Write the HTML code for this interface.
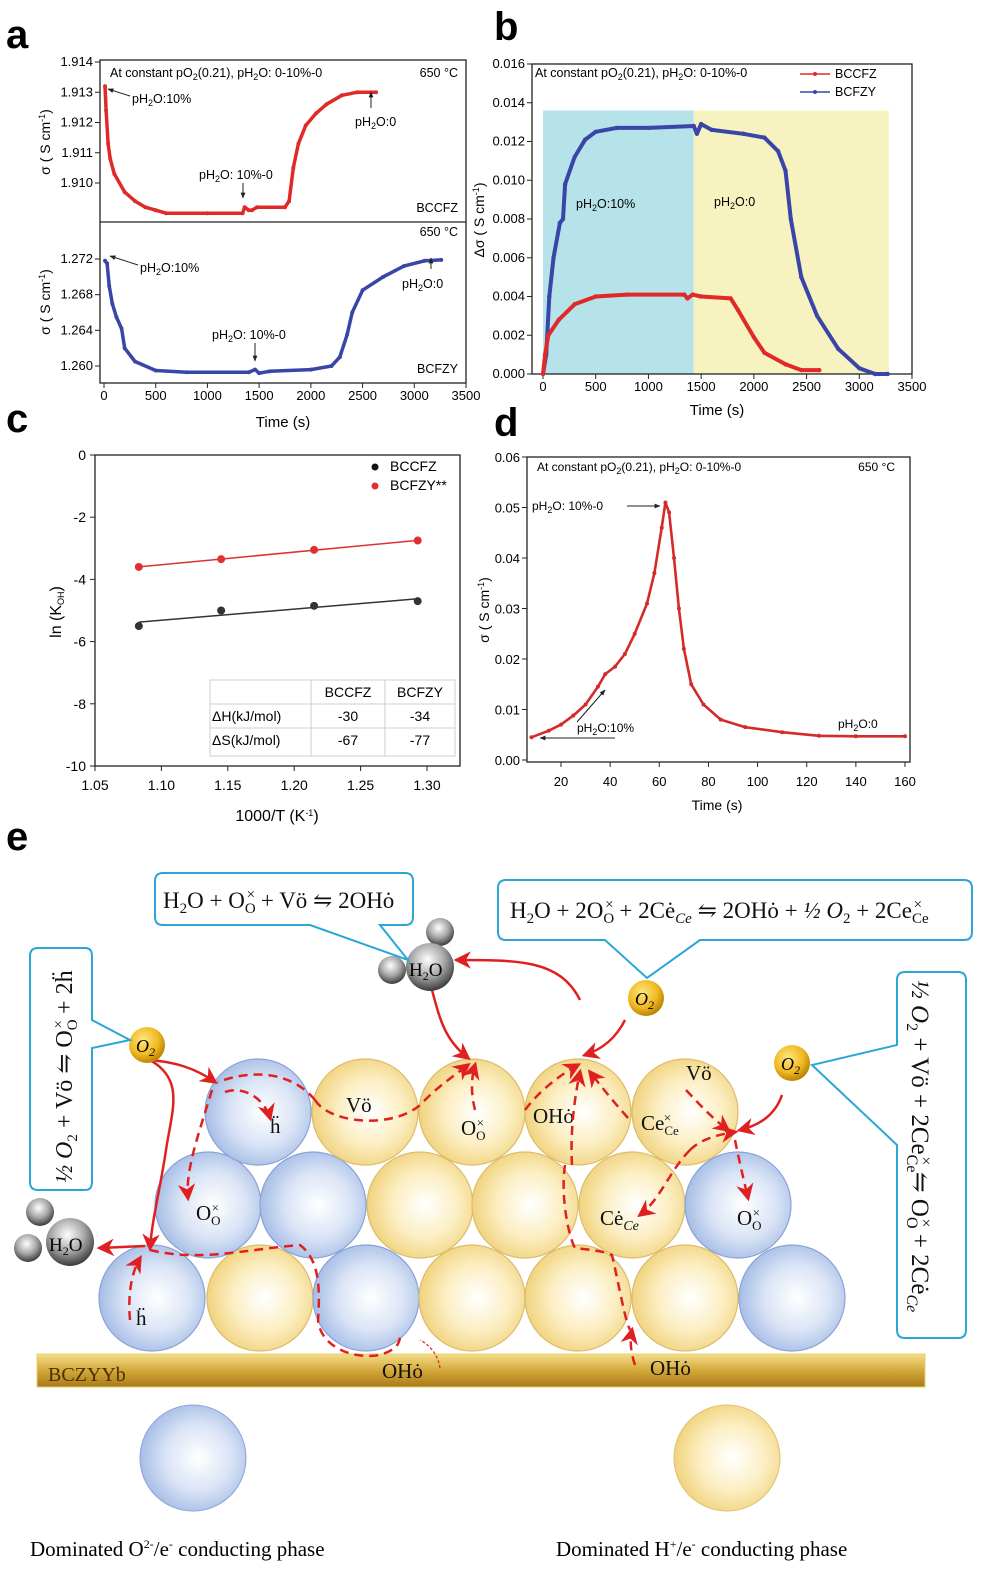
<!DOCTYPE html>
<html><head><meta charset="utf-8">
<style>
html,body{margin:0;padding:0;background:#fff;}
svg{display:block;font-family:"Liberation Sans",sans-serif;}
.ser{font-family:"Liberation Serif","DejaVu Serif",serif;}
</style></head>
<body>
<svg id="fig" width="1000" height="1590" viewBox="0 0 1000 1590" xmlns="http://www.w3.org/2000/svg">
<defs>
<radialGradient id="gBlue" cx="0.55" cy="0.5" r="0.55"><stop offset="0" stop-color="#ffffff"/><stop offset="0.55" stop-color="#dbe5f6"/><stop offset="1" stop-color="#a6bde6"/></radialGradient>
<radialGradient id="gYel" cx="0.55" cy="0.5" r="0.55"><stop offset="0" stop-color="#ffffff"/><stop offset="0.55" stop-color="#fcefc4"/><stop offset="1" stop-color="#f1d37e"/></radialGradient>
<radialGradient id="gO2" cx="0.4" cy="0.35" r="0.7"><stop offset="0" stop-color="#ffe680"/><stop offset="0.6" stop-color="#f0b820"/><stop offset="1" stop-color="#b07a00"/></radialGradient>
<radialGradient id="gH2O" cx="0.45" cy="0.35" r="0.7"><stop offset="0" stop-color="#ffffff"/><stop offset="0.5" stop-color="#a8a8a8"/><stop offset="1" stop-color="#2a2a2a"/></radialGradient>
<linearGradient id="gBar" x1="0" y1="0" x2="0" y2="1"><stop offset="0" stop-color="#f3dd8a"/><stop offset="0.5" stop-color="#d4a83a"/><stop offset="1" stop-color="#a87a18"/></linearGradient>
<marker id="ah" viewBox="0 0 10 10" refX="8" refY="5" markerWidth="7" markerHeight="7" orient="auto"><path d="M0,0 L10,5 L0,10 L3,5 z" fill="#e02020"/></marker>
<marker id="ak" viewBox="0 0 10 10" refX="9" refY="5" markerWidth="6" markerHeight="6" orient="auto"><path d="M0,1 L10,5 L0,9 z" fill="#222"/></marker>
</defs>

<text x="6" y="48" font-size="40" font-weight="bold">a</text>
<text x="494" y="40" font-size="40" font-weight="bold">b</text>
<text x="6" y="432" font-size="40" font-weight="bold">c</text>
<text x="494" y="436" font-size="40" font-weight="bold">d</text>
<text x="6" y="850" font-size="40" font-weight="bold">e</text>

<g id="charts"></g>

<g id="panelE">
<rect x="37" y="1354" width="888" height="33" fill="url(#gBar)" stroke="#e8d070"/>
<text x="48" y="1381" font-size="20" class="ser" fill="#4a3000">BCZYYb</text>
<g id="spheres"></g>
<circle cx="193" cy="1458" r="53" fill="url(#gBlue)" stroke="#8aa3d6"/>
<circle cx="727" cy="1458" r="53" fill="url(#gYel)" stroke="#e0c070"/>
<text x="30" y="1556" font-size="21" class="ser">Dominated O<tspan font-size="12" dy="-8">2-</tspan><tspan dy="8">/e</tspan><tspan font-size="12" dy="-8">-</tspan><tspan dy="8"> conducting phase</tspan></text>
<text x="556" y="1556" font-size="21" class="ser">Dominated H<tspan font-size="12" dy="-8">+</tspan><tspan dy="8">/e</tspan><tspan font-size="12" dy="-8">-</tspan><tspan dy="8"> conducting phase</tspan></text>

<g class="ser" font-size="21" fill="#111">
<text x="346" y="1112">Vö</text>
<text x="270" y="1133">ḧ</text>
<text x="461" y="1135">O<tspan font-size="13" dy="5">O</tspan><tspan font-size="13" dx="-9" dy="-13">×</tspan></text>
<text x="533" y="1123">OHȯ</text>
<text x="641" y="1130">Ce<tspan font-size="13" dy="5">Ce</tspan><tspan font-size="13" dx="-15" dy="-13">×</tspan></text>
<text x="686" y="1080">Vö</text>
<text x="196" y="1220">O<tspan font-size="13" dy="5">O</tspan><tspan font-size="13" dx="-9" dy="-13">×</tspan></text>
<text x="600" y="1225">Cė<tspan font-size="14" font-style="italic" dy="5">Ce</tspan></text>
<text x="737" y="1225">O<tspan font-size="13" dy="5">O</tspan><tspan font-size="13" dx="-9" dy="-13">×</tspan></text>
<text x="136" y="1325">ḧ</text>
<text x="382" y="1378">OHȯ</text>
<text x="650" y="1375">OHȯ</text>
</g>

<g fill="none" stroke="#e02020" stroke-width="2.5">
<path d="M150,1060 C175,1062 195,1068 215,1082" marker-end="url(#ah)"/>
<path d="M150,1060 C185,1080 172,1110 166,1150 C160,1190 152,1220 150,1248" marker-end="url(#ah)"/>
<path d="M145,1246 L100,1248" marker-end="url(#ah)"/>
<path d="M432,990 C440,1020 445,1040 468,1058" marker-end="url(#ah)"/>
<path d="M580,1000 C560,960 520,960 457,960" marker-end="url(#ah)"/>
<path d="M625,1020 C615,1040 600,1050 585,1055" marker-end="url(#ah)"/>
<path d="M782,1095 C775,1115 760,1125 740,1130" marker-end="url(#ah)"/>
</g>
<g fill="none" stroke="#e02020" stroke-width="2.5" stroke-dasharray="9,6">
<path d="M315,1100 C290,1070 250,1070 218,1082"/>
<path d="M225,1092 C245,1085 265,1100 270,1118" marker-end="url(#ah)"/>
<path d="M212,1090 C200,1130 185,1170 188,1198" marker-end="url(#ah)"/>
<path d="M315,1100 C330,1125 400,1130 425,1100 C440,1085 455,1075 468,1065" marker-end="url(#ah)"/>
<path d="M475,1110 C470,1090 472,1075 475,1065" marker-end="url(#ah)"/>
<path d="M525,1110 C540,1090 560,1075 578,1065" marker-end="url(#ah)"/>
<path d="M628,1118 C612,1100 600,1085 590,1072" marker-end="url(#ah)"/>
<path d="M572,1165 C570,1130 575,1095 580,1072" marker-end="url(#ah)"/>
<path d="M686,1090 C700,1105 712,1118 728,1130" marker-end="url(#ah)"/>
<path d="M690,1150 C700,1140 715,1135 735,1132" marker-end="url(#ah)"/>
<path d="M735,1140 C740,1165 745,1185 748,1198" marker-end="url(#ah)"/>
<path d="M690,1150 C670,1170 660,1200 640,1215" marker-end="url(#ah)"/>
<path d="M150,1250 C200,1262 240,1250 300,1245 C320,1260 320,1290 318,1320 C320,1345 350,1360 380,1355 C395,1350 400,1345 400,1335"/>
<path d="M565,1165 C560,1200 570,1240 575,1248 C590,1250 600,1250 612,1255 C620,1290 625,1320 630,1330"/>
<path d="M635,1365 C630,1350 630,1340 632,1330" marker-end="url(#ah)"/>
<path d="M130,1320 C128,1300 130,1275 140,1258" marker-end="url(#ah)"/>
</g>
<path d="M440,1368 C438,1355 430,1345 420,1340" fill="none" stroke="#e02020" stroke-width="1.2" stroke-dasharray="3,2"/>

<g>
<circle cx="147" cy="1045" r="18" fill="url(#gO2)"/>
<text x="136" y="1052" font-size="18" font-style="italic" class="ser">O<tspan font-size="12" dy="4">2</tspan></text>
<circle cx="646" cy="998" r="18" fill="url(#gO2)"/>
<text x="635" y="1005" font-size="18" font-style="italic" class="ser">O<tspan font-size="12" dy="4">2</tspan></text>
<circle cx="792" cy="1063" r="18" fill="url(#gO2)"/>
<text x="781" y="1070" font-size="18" font-style="italic" class="ser">O<tspan font-size="12" dy="4">2</tspan></text>
</g>
<g>
<circle cx="440" cy="932" r="14" fill="url(#gH2O)"/>
<circle cx="392" cy="970" r="14" fill="url(#gH2O)"/>
<circle cx="430" cy="967" r="24" fill="url(#gH2O)"/>
<text x="409" y="976" font-size="19" class="ser">H<tspan font-size="12" dy="4">2</tspan><tspan dy="-4">O</tspan></text>
</g>
<g>
<circle cx="40" cy="1212" r="14" fill="url(#gH2O)"/>
<circle cx="28" cy="1248" r="14" fill="url(#gH2O)"/>
<circle cx="70" cy="1242" r="24" fill="url(#gH2O)"/>
<text x="49" y="1251" font-size="19" class="ser">H<tspan font-size="12" dy="4">2</tspan><tspan dy="-4">O</tspan></text>
</g>

<g fill="#fff" stroke="#2aa7d5" stroke-width="2">
<path d="M163,873 H405 Q413,873 413,881 V917 Q413,925 405,925 H380 L408,960 L310,925 H163 Q155,925 155,917 V881 Q155,873 163,873 Z"/>
<path d="M506,880 H964 Q972,880 972,888 V932 Q972,940 964,940 H700 L647,978 L605,940 H506 Q498,940 498,932 V888 Q498,880 506,880 Z"/>
<path d="M38,948 H85 Q92,948 92,956 V1020 L130,1040 L92,1048 V1182 Q92,1190 85,1190 H38 Q30,1190 30,1182 V956 Q30,948 38,948 Z"/>
<path d="M905,972 H958 Q966,972 966,980 V1330 Q966,1338 958,1338 H905 Q897,1338 897,1330 V1145 L812,1065 L897,1045 V980 Q897,972 905,972 Z"/>
</g>
<g class="ser" fill="#111" font-size="23">
<text x="163" y="908">H<tspan font-size="15" dy="5">2</tspan><tspan dy="-5">O + O</tspan><tspan font-size="15" dy="5">O</tspan><tspan font-size="15" dx="-9" dy="-14">×</tspan><tspan dy="9"> + Vö ⇋ 2OHȯ</tspan></text>
<text x="510" y="918">H<tspan font-size="15" dy="5">2</tspan><tspan dy="-5">O + 2O</tspan><tspan font-size="15" dy="5">O</tspan><tspan font-size="15" dx="-9" dy="-14">×</tspan><tspan dy="9"> + 2Cė</tspan><tspan font-size="15" font-style="italic" dy="5">Ce</tspan><tspan dy="-5"> ⇋ 2OHȯ + </tspan><tspan font-style="italic">½ O</tspan><tspan font-size="15" dy="5">2</tspan><tspan dy="-5"> + 2Ce</tspan><tspan font-size="15" dy="5">Ce</tspan><tspan font-size="15" dx="-15" dy="-14">×</tspan></text>
<text transform="translate(72,1183) rotate(-90)" font-size="24"><tspan font-style="italic">½ O</tspan><tspan font-size="15" dy="5">2</tspan><tspan dy="-5"> + Vö ⇋ O</tspan><tspan font-size="15" dy="5">O</tspan><tspan font-size="15" dx="-9" dy="-14">×</tspan><tspan dy="9"> + 2ḧ</tspan></text>
<text transform="translate(912,980) rotate(90)" font-size="25"><tspan font-style="italic">½ O</tspan><tspan font-size="16" dy="5">2</tspan><tspan dy="-5"> + Vö + 2Ce</tspan><tspan font-size="16" dy="5">Ce</tspan><tspan font-size="16" dx="-16" dy="-14">×</tspan><tspan dy="9"> ⇋ O</tspan><tspan font-size="16" dy="5">O</tspan><tspan font-size="16" dx="-10" dy="-14">×</tspan><tspan dy="9"> + 2Cė</tspan><tspan font-size="16" font-style="italic" dy="5">Ce</tspan></text>
</g>
</g>
</svg>

<script>
const aTimeTop = [10,20,40,60,100,200,300,400,500,600,1000,1340,1360,1400,1430,1480,1750,1790,1830,1880,1950,2050,2150,2300,2450,2630];
const aSigmaTop = [1.9132,1.9124,1.9113,1.9108,1.9103,1.9097,1.9094,1.9092,1.9091,1.9090,1.9090,1.9090,1.9092,1.9091,1.9091,1.9092,1.9092,1.9094,1.9105,1.9113,1.9119,1.9123,1.9126,1.9129,1.9130,1.9130];
const aTimeBot = [10,30,50,80,120,170,200,300,500,800,1400,1460,1500,1600,2000,2200,2280,2350,2400,2500,2700,2900,3100,3260];
const aSigmaBot = [1.2718,1.2715,1.2690,1.2670,1.2655,1.2642,1.2620,1.2605,1.2595,1.2593,1.2593,1.2596,1.2592,1.2594,1.2596,1.2600,1.2610,1.2635,1.2660,1.2685,1.2700,1.2712,1.2718,1.2719];
const aXTicks = [0,500,1000,1500,2000,2500,3000,3500];
const aYTicksTop = [1.910,1.911,1.912,1.913,1.914];
const aYTicksBot = [1.260,1.264,1.268,1.272];
const bTimeBCFZY = [0,30,60,100,160,190,210,300,400,500,700,1000,1430,1460,1500,1600,1900,2100,2230,2300,2350,2450,2600,2800,3000,3150,3270];
const bDeltaBCFZY = [0,0.001,0.004,0.006,0.0078,0.008,0.0098,0.0112,0.0121,0.0125,0.0127,0.0127,0.0128,0.0124,0.0129,0.0126,0.0124,0.0122,0.0115,0.0105,0.008,0.005,0.003,0.0013,0.0003,0,0];
const bTimeBCCFZ = [0,20,50,150,300,500,800,1340,1370,1420,1500,1780,1850,2000,2100,2300,2450,2620];
const bDeltaBCCFZ = [0,0.001,0.002,0.0028,0.0036,0.004,0.0041,0.0041,0.0039,0.0041,0.004,0.0039,0.0033,0.0019,0.0011,0.0005,0.0002,0.0002];
const bXTicks = [0,500,1000,1500,2000,2500,3000,3500];
const bYTicks = [0,0.002,0.004,0.006,0.008,0.010,0.012,0.014,0.016];
const bRegions = [[0,1430],[1430,3280]];
const cInvT = [1.083,1.145,1.215,1.293];
const cBCCFZ = [-5.5,-5.0,-4.85,-4.7];
const cBCFZY = [-3.6,-3.35,-3.05,-2.75];
const cXTicks = [1.05,1.10,1.15,1.20,1.25,1.30];
const cYTicks = [0,-2,-4,-6,-8,-10];
const dTime = [8,15,20,25,30,35,38,42,46,50,55,58,61,62.5,64,66,68,70,73,78,85,95,110,125,140,160];
const dSigma = [0.0045,0.0058,0.007,0.0088,0.011,0.0145,0.017,0.0185,0.021,0.025,0.031,0.037,0.046,0.051,0.049,0.040,0.030,0.022,0.015,0.011,0.008,0.0065,0.0055,0.0048,0.0047,0.0047];
const dXTicks = [20,40,60,80,100,120,140,160];
const dYTicks = [0,0.01,0.02,0.03,0.04,0.05,0.06];

const NS = "http://www.w3.org/2000/svg";
const root = document.getElementById('charts');
function el(tag, attrs, parent){
  const e = document.createElementNS(NS, tag);
  for (const k in attrs) e.setAttribute(k, attrs[k]);
  (parent||root).appendChild(e);
  return e;
}
function txt(x,y,s,size,anchor,parent){
  const t = el('text',{x:x,y:y,'font-size':size||13,'text-anchor':anchor||'start'},parent);
  t.textContent = s;
  return t;
}
function lin(d0,d1,r0,r1){ return v => r0 + (v-d0)/(d1-d0)*(r1-r0); }
function series(g, xs, ys, sx, sy, color, r, name, w){
  let d = '';
  xs.forEach((x,i)=>{ d += (i?'L':'M') + sx(x).toFixed(1) + ',' + sy(ys[i]).toFixed(1); });
  const p = el('path',{d:d,fill:'none',stroke:color,'stroke-width':w||3.5,'stroke-linejoin':'round'},g);
  
  
  xs.forEach((x,i)=>{
    const c = el('circle',{cx:sx(x),cy:sy(ys[i]),r:r,fill:color},g);
    
    
  });
}
function ann(g, x1,y1,x2,y2){
  el('line',{x1:x1,y1:y1,x2:x2,y2:y2,stroke:'#222','stroke-width':1,'marker-end':'url(#ak)'},g);
}
function sub(t, parts){
  parts.forEach(p=>{
    const ts = document.createElementNS(NS,'tspan');
    if (p[1]==='sub'){ ts.setAttribute('font-size','9'); ts.setAttribute('dy','3'); }
    else if (p[1]==='sup'){ ts.setAttribute('font-size','9'); ts.setAttribute('dy','-5'); }
    else if (p[1]==='back'){ ts.setAttribute('dy', p[2]); }
    ts.textContent = p[0];
    t.appendChild(ts);
  });
}

(function(){
  const g = el('g',{});
  
  
  const L=100,R=466,T=60,M=222,B=383;
  const sx = lin(0,3500,104,466);
  const syT = lin(1.910,1.914,183,62);
  const syB = lin(1.260,1.272,366,259);
  el('rect',{x:L,y:T,width:R-L,height:B-T,fill:'none',stroke:'#222','stroke-width':1.3},g);
  el('line',{x1:L,y1:M,x2:R,y2:M,stroke:'#222','stroke-width':1.3},g);
  aXTicks.forEach(v=>{ el('line',{x1:sx(v),y1:B,x2:sx(v),y2:B+5,stroke:'#222'},g); txt(sx(v),B+17,String(v),13,'middle',g); });
  aYTicksTop.forEach(v=>{ el('line',{x1:L-5,y1:syT(v),x2:L,y2:syT(v),stroke:'#222'},g); txt(L-7,syT(v)+4,v.toFixed(3),13,'end',g); });
  aYTicksBot.forEach(v=>{ el('line',{x1:L-5,y1:syB(v),x2:L,y2:syB(v),stroke:'#222'},g); txt(L-7,syB(v)+4,v.toFixed(3),13,'end',g); });
  txt(283,427,'Time (s)',15,'middle',g);
  let t = el('text',{transform:'translate(50,142) rotate(-90)','font-size':14,'text-anchor':'middle'},g);
  sub(t,[['σ ( S cm',null],['-1','sup'],[')','back','5']]);
  t = el('text',{transform:'translate(50,302) rotate(-90)','font-size':14,'text-anchor':'middle'},g);
  sub(t,[['σ ( S cm',null],['-1','sup'],[')','back','5']]);
  t = el('text',{x:110,y:77,'font-size':12.5},g);
  sub(t,[['At constant pO',null],['2','sub'],['(0.21), pH','back','-3'],['2','sub'],['O: 0-10%-0','back','-3']]);
  txt(458,77,'650 °C',12.5,'end',g);
  txt(458,212,'BCCFZ',12.5,'end',g);
  txt(458,236,'650 °C',12.5,'end',g);
  txt(458,373,'BCFZY',12.5,'end',g);
  series(g,aTimeTop,aSigmaTop,sx,syT,'#e02a2a',2,'bccfz-a');
  series(g,aTimeBot,aSigmaBot,sx,syB,'#3a45a8',2,'bcfzy-a');
  const lab=(x,y,s)=>{const q=el('text',{x:x,y:y,'font-size':12.5},g); sub(q,[['pH',null],['2','sub'],[s,'back','-3']]);};
  lab(132,103,'O:10%'); ann(g,130,96,108,89);
  lab(199,179,'O: 10%-0'); ann(g,243,183,243,198);
  lab(355,126,'O:0'); ann(g,371,108,371,92);
  lab(140,272,'O:10%'); ann(g,138,265,110,256);
  lab(212,339,'O: 10%-0'); ann(g,255,343,255,361);
  lab(402,288,'O:0'); ann(g,431,269,431,258);
})();

(function(){
  const g = el('g',{});
  
  
  const L=532,R=912,T=64,B=374;
  const sx = lin(0,3500,543,912);
  const sy = lin(0,0.016,374,64);
  const cols=['#b6e2ea','#f7f3c0'];
  bRegions.forEach((r,i)=>{
    const rc = el('rect',{x:sx(r[0]),y:sy(0.0136),width:sx(r[1])-sx(r[0]),height:sy(0)-sy(0.0136),fill:cols[i]},g);
    
    
  });
  el('rect',{x:L,y:T,width:R-L,height:B-T,fill:'none',stroke:'#222','stroke-width':1.3},g);
  bXTicks.forEach(v=>{ el('line',{x1:sx(v),y1:B,x2:sx(v),y2:B+5,stroke:'#222'},g); txt(sx(v),B+17,String(v),13,'middle',g); });
  bYTicks.forEach(v=>{ el('line',{x1:L-5,y1:sy(v),x2:L,y2:sy(v),stroke:'#222'},g); txt(L-7,sy(v)+4,v.toFixed(3),13,'end',g); });
  txt(717,415,'Time (s)',15,'middle',g);
  let t = el('text',{transform:'translate(484,220) rotate(-90)','font-size':14,'text-anchor':'middle'},g);
  sub(t,[['Δσ ( S cm',null],['-1','sup'],[')','back','5']]);
  t = el('text',{x:535,y:77,'font-size':12.5},g);
  sub(t,[['At constant pO',null],['2','sub'],['(0.21), pH','back','-3'],['2','sub'],['O: 0-10%-0','back','-3']]);
  series(g,bTimeBCFZY,bDeltaBCFZY,sx,sy,'#3a45a8',2.2,'bcfzy-b',4);
  series(g,bTimeBCCFZ,bDeltaBCCFZ,sx,sy,'#e02a2a',2.2,'bccfz-b',4);
  el('line',{x1:800,y1:74,x2:830,y2:74,stroke:'#e02a2a','stroke-width':1.5},g); el('circle',{cx:815,cy:74,r:2,fill:'#e02a2a'},g);
  txt(835,78,'BCCFZ',12.5,'start',g);
  el('line',{x1:800,y1:92,x2:830,y2:92,stroke:'#3a45a8','stroke-width':1.5},g); el('circle',{cx:815,cy:92,r:2,fill:'#3a45a8'},g);
  txt(835,96,'BCFZY',12.5,'start',g);
  t = el('text',{x:576,y:208,'font-size':12.5},g); sub(t,[['pH',null],['2','sub'],['O:10%','back','-3']]);
  t = el('text',{x:714,y:206,'font-size':12.5},g); sub(t,[['pH',null],['2','sub'],['O:0','back','-3']]);
})();

(function(){
  const g = el('g',{});
  
  
  const L=95,R=460,T=455,B=766;
  const sx = lin(1.05,1.30,95,427);
  const sy = lin(0,-10,455,766);
  el('rect',{x:L,y:T,width:R-L,height:B-T,fill:'none',stroke:'#222','stroke-width':1.3},g);
  cXTicks.forEach(v=>{ el('line',{x1:sx(v),y1:B,x2:sx(v),y2:B+5,stroke:'#222'},g); txt(sx(v),B+24,v.toFixed(2),14,'middle',g); });
  cYTicks.forEach(v=>{ el('line',{x1:L-5,y1:sy(v),x2:L,y2:sy(v),stroke:'#222'},g); txt(L-9,sy(v)+5,String(v),14,'end',g); });
  let t = el('text',{x:277,y:821,'font-size':16,'text-anchor':'middle'},g);
  sub(t,[['1000/T (K',null],['-1','sup'],[')','back','5']]);
  t = el('text',{transform:'translate(61,612) rotate(-90)','font-size':16,'text-anchor':'middle'},g);
  sub(t,[['ln (K',null],['OH','sub'],[')','back','-3']]);
  function fit(xs,ys){ const n=xs.length; const mx=xs.reduce((a,b)=>a+b)/n, my=ys.reduce((a,b)=>a+b)/n; let num=0,den=0; xs.forEach((x,i)=>{num+=(x-mx)*(ys[i]-my);den+=(x-mx)*(x-mx);}); const m=num/den; return [m,my-m*mx]; }
  [[cBCCFZ,'#333','bccfz-c'],[cBCFZY,'#e03030','bcfzy-c']].forEach(s=>{
    const f = fit(cInvT,s[0]);
    const x0=cInvT[0], x1=cInvT[cInvT.length-1];
    const ln = el('line',{x1:sx(x0),y1:sy(f[0]*x0+f[1]),x2:sx(x1),y2:sy(f[0]*x1+f[1]),stroke:s[1],'stroke-width':1.5},g);
    
    
    cInvT.forEach((x,i)=>{
      const c = el('circle',{cx:sx(x),cy:sy(s[0][i]),r:4,fill:s[1]},g);
      
      
    });
  });
  el('circle',{cx:375,cy:467,r:3.5,fill:'#111'},g); txt(390,471,'BCCFZ',14,'start',g);
  el('circle',{cx:375,cy:486,r:3.5,fill:'#e03030'},g); txt(390,490,'BCFZY**',14,'start',g);
  const tb = el('g',{},g);
  
  
  el('rect',{x:210,y:680,width:245,height:76,fill:'#fff',stroke:'#ccc'},tb);
  [704,728].forEach(y=>el('line',{x1:210,y1:y,x2:455,y2:y,stroke:'#ccc'},tb));
  [311,385].forEach(x=>el('line',{x1:x,y1:680,x2:x,y2:756,stroke:'#ccc'},tb));
  txt(348,697,'BCCFZ',14,'middle',tb); txt(420,697,'BCFZY',14,'middle',tb);
  txt(212,721,'ΔH(kJ/mol)',14,'start',tb); txt(348,721,'-30',14,'middle',tb); txt(420,721,'-34',14,'middle',tb);
  txt(212,745,'ΔS(kJ/mol)',14,'start',tb); txt(348,745,'-67',14,'middle',tb); txt(420,745,'-77',14,'middle',tb);
})();

(function(){
  const g = el('g',{});
  
  
  const L=527,R=910,T=457,B=762;
  const sx = lin(20,160,561,905);
  const sy = lin(0,0.06,760,457);
  el('rect',{x:L,y:T,width:R-L,height:B-T,fill:'none',stroke:'#222','stroke-width':1.3},g);
  dXTicks.forEach(v=>{ el('line',{x1:sx(v),y1:B,x2:sx(v),y2:B+5,stroke:'#222'},g); txt(sx(v),B+24,String(v),13,'middle',g); });
  dYTicks.forEach(v=>{ el('line',{x1:L-5,y1:sy(v),x2:L,y2:sy(v),stroke:'#222'},g); txt(L-7,sy(v)+5,v.toFixed(2),13,'end',g); });
  txt(717,810,'Time (s)',14,'middle',g);
  let t = el('text',{transform:'translate(489,610) rotate(-90)','font-size':14,'text-anchor':'middle'},g);
  sub(t,[['σ ( S cm',null],['-1','sup'],[')','back','5']]);
  t = el('text',{x:537,y:471,'font-size':12},g);
  sub(t,[['At constant pO',null],['2','sub'],['(0.21), pH','back','-3'],['2','sub'],['O: 0-10%-0','back','-3']]);
  txt(895,471,'650 °C',12,'end',g);
  series(g,dTime,dSigma,sx,sy,'#d42a2a',2,'sigma-d',2.6);
  const lab=(x,y,s)=>{const q=el('text',{x:x,y:y,'font-size':12},g); sub(q,[['pH',null],['2','sub'],[s,'back','-3']]);};
  lab(532,510,'O: 10%-0'); ann(g,627,506,660,506);
  lab(577,732,'O:10%'); ann(g,577,722,605,690);
  el('line',{x1:615,y1:738,x2:540,y2:738,stroke:'#222','marker-end':'url(#ak)'},g);
  lab(838,728,'O:0');
})();

(function(){
  const sp = document.getElementById('spheres');
  const rows = [
    {y:1112, items:[[258,'b'],[365,'y'],[472,'y'],[578,'y'],[685,'y']]},
    {y:1205, items:[[208,'b'],[313,'b'],[420,'y'],[525,'y'],[632,'y'],[738,'b']]},
    {y:1298, items:[[152,'b'],[260,'y'],[366,'b'],[472,'y'],[578,'y'],[685,'y'],[792,'b']]}
  ];
  rows.slice().reverse().forEach(r=>r.items.forEach(it=>{
    const c = el('circle',{cx:it[0],cy:r.y,r:53,fill:it[1]==='b'?'url(#gBlue)':'url(#gYel)',stroke:it[1]==='b'?'#8aa3d6':'#dcbc6a','stroke-width':1.2},sp);
    
    
  }));
})();
</script>
</body></html>
